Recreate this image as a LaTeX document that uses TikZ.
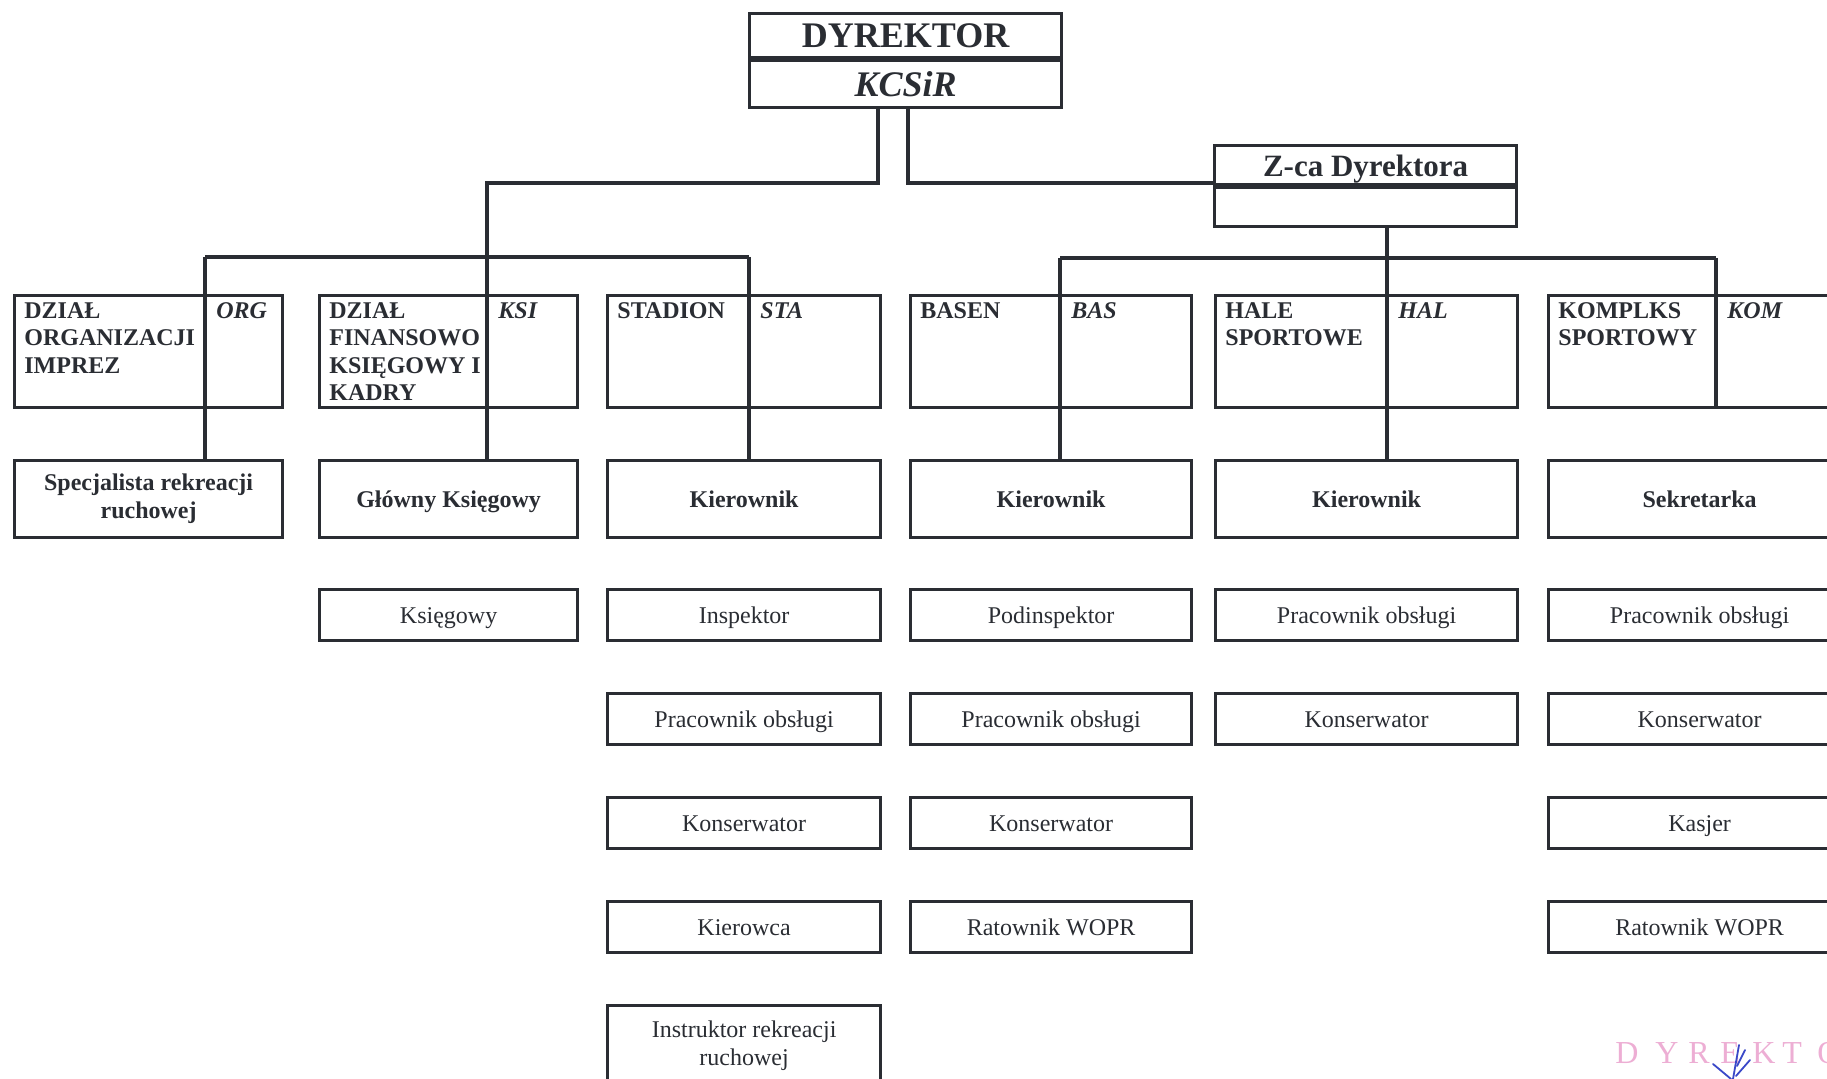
\documentclass[tikz,border=0pt]{standalone}
\usepackage{fontspec}
\setmainfont{Liberation Serif}
\usetikzlibrary{positioning}
\definecolor{ink}{HTML}{2A2D33}
\definecolor{stampc}{HTML}{EDAED4}
\definecolor{penc}{HTML}{3A48C8}

\begin{document}
\begin{tikzpicture}[x=0.5pt,y=-0.5pt,
   every node/.style={inner sep=0pt,text=ink},
   box/.style={draw=ink,line width=1.6pt,anchor=north west,align=center},
   conn/.style={draw=ink,line width=1.6pt},
   c1/.style={minimum width=134pt},
   c2/.style={minimum width=129pt},
   c3/.style={minimum width=136.5pt},
   c4/.style={minimum width=140.5pt},
   c5/.style={minimum width=151pt},
   c6/.style={minimum width=151pt},
   unit/.style={box,minimum height=56pt},
   head/.style={box,minimum height=38.5pt,text height=10pt,text depth=1.8pt,font=\fontsize{12}{14}\selectfont\bfseries},
   post/.style={box,minimum height=25.5pt,text height=10pt,text depth=1.8pt,font=\fontsize{12}{14}\selectfont},
   twoline/.style={text height=,text depth=},
   uname/.style={align=left,font=\fontsize{12}{13.7}\selectfont\bfseries},
   ucode/.style={font=\fontsize{12}{14}\selectfont\bfseries\itshape},
   stampl/.style={anchor=base west,text=stampc,font=\fontsize{16}{18}\selectfont},
   pen/.style={penc,line width=0.9pt,line cap=round}]
\useasboundingbox (0,0) rectangle (1827,1079);
\clip (0,0) rectangle (1827,1079);
\fill[white] (0,0) rectangle (1827,1079);

% dyrekcja
\node[box,minimum width=156pt,minimum height=22pt,font=\fontsize{18}{20}\selectfont\bfseries] (dyr) at (748,12) {DYREKTOR};
\node[box,minimum width=156pt,minimum height=23.5pt,font=\fontsize{18}{20}\selectfont\bfseries\itshape] (dyrkod) at (dyr.south west) {KCSiR};
\node[box,minimum width=151pt,minimum height=19.5pt,text height=13pt,text depth=2pt,font=\fontsize{15.5}{17}\selectfont\bfseries] (zca) at (1213,144) {Z-ca Dyrektora};
\node[box,minimum width=151pt,minimum height=19.5pt] (zcakod) at (zca.south west) {};

% komorki
\node[unit,c1] (org) at (13,294) {};
\node[unit,c2] (ksi) at (318,294) {};
\node[unit,c3] (sta) at (606,294) {};
\node[unit,c4] (bas) at (909,294) {};
\node[unit,c5] (hal) at (1214,294) {};
\node[unit,c6] (kom) at (1547,294) {};

\coordinate (orgx) at (205,257);
\coordinate (ksix) at (487,257);
\coordinate (stax) at (749,257);
\coordinate (basx) at (1060,258);
\coordinate (halx) at (1387,258);
\coordinate (komx) at (1716,258);
\coordinate (orgdiv) at (205,294);
\coordinate (ksidiv) at (487,294);
\coordinate (stadiv) at (749,294);
\coordinate (basdiv) at (1060,294);
\coordinate (haldiv) at (1387,294);
\coordinate (komdiv) at (1716,294);

\node[uname,below right=4pt and 5.5pt of org.north west] (orgn) {DZIAŁ\\ORGANIZACJI\\IMPREZ};
\node[uname,below right=4pt and 5.5pt of ksi.north west] (ksin) {DZIAŁ\\FINANSOWO\\KSIĘGOWY I\\KADRY};
\node[uname,below right=4pt and 5.5pt of sta.north west] (stan) {STADION};
\node[uname,below right=4pt and 5.5pt of bas.north west] (basn) {BASEN};
\node[uname,below right=4pt and 5.5pt of hal.north west] (haln) {HALE\\SPORTOWE};
\node[uname,below right=4pt and 5.5pt of kom.north west] (komn) {KOMPLKS\\SPORTOWY};

\node[ucode,below right=4pt and 5.5pt of orgdiv] (orgk) {ORG};
\node[ucode,below right=4pt and 5.5pt of ksidiv] (ksik) {KSI};
\node[ucode,below right=4pt and 5.5pt of stadiv] (stak) {STA};
\node[ucode,below right=4pt and 5.5pt of basdiv] (bask) {BAS};
\node[ucode,below right=4pt and 5.5pt of haldiv] (halk) {HAL};
\node[ucode,below right=4pt and 5.5pt of komdiv] (komk) {KOM};

% kierownictwo
\node[head,twoline,c1] (org2) at (13,459) {Specjalista rekreacji\\ruchowej};
\node[head,c2] (ksi2) at (318,459) {Główny Księgowy};
\node[head,c3] (sta2) at (606,459) {Kierownik};
\node[head,c4] (bas2) at (909,459) {Kierownik};
\node[head,c5] (hal2) at (1214,459) {Kierownik};
\node[head,c6] (kom2) at (1547,459) {Sekretarka};

% stanowiska
\node[post,c2] (ksi3) at (318,588) {Księgowy};
\node[post,c3] (sta3) at (606,588) {Inspektor};
\node[post,c3] (sta4) at (606,692) {Pracownik obsługi};
\node[post,c3] (sta5) at (606,796) {Konserwator};
\node[post,c3] (sta6) at (606,900) {Kierowca};
\node[post,twoline,c3,minimum height=40pt] (sta7) at (606,1004) {Instruktor rekreacji\\ruchowej};
\node[post,c4] (bas3) at (909,588) {Podinspektor};
\node[post,c4] (bas4) at (909,692) {Pracownik obsługi};
\node[post,c4] (bas5) at (909,796) {Konserwator};
\node[post,c4] (bas6) at (909,900) {Ratownik WOPR};
\node[post,c5] (hal3) at (1214,588) {Pracownik obsługi};
\node[post,c5] (hal4) at (1214,692) {Konserwator};
\node[post,c6] (kom3) at (1547,588) {Pracownik obsługi};
\node[post,c6] (kom4) at (1547,692) {Konserwator};
\node[post,c6] (kom5) at (1547,796) {Kasjer};
\node[post,c6] (kom6) at (1547,900) {Ratownik WOPR};

% polaczenia
\coordinate (dl) at (878,183);
\coordinate (dr) at (908,183);
\draw[conn] (dyrkod.south -| dl) -- (dl) -| (ksi2.north -| ksix);
\draw[conn] (dyrkod.south -| dr) -- (dr) -- (dr -| zca.south west);
\draw[conn] (orgx) -- (stax);
\draw[conn] (basx) -- (komx);
\draw[conn] (orgx) -- (org2.north -| orgx);
\draw[conn] (stax) -- (sta2.north -| stax);
\draw[conn] (basx) -- (bas2.north -| basx);
\draw[conn] (zcakod.south -| halx) -- (hal2.north -| halx);
\draw[conn] (komx) -- (kom.south -| komx);

% pieczatka
\foreach \ch/\px in {D/1615,Y/1655,R/1688,E/1720,K/1752,T/1782,O/1817}
  \node[stampl] (st\ch) at (\px,1063) {\ch};
\draw[pen] (1739,1045) -- (1733,1079);
\draw[pen] (1713,1064) -- (1731,1079);
\draw[pen] (1750,1060) -- (1736,1076);
\draw[pen] (1745,1050) -- (1737,1066);
\end{tikzpicture}
\end{document}
